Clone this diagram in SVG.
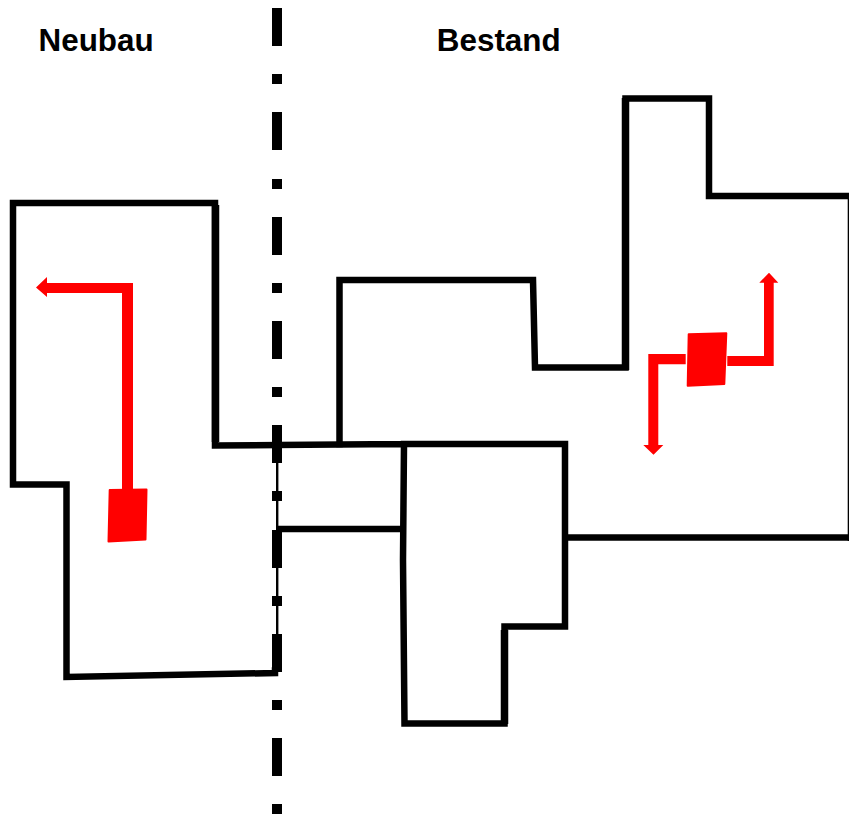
<svg xmlns="http://www.w3.org/2000/svg" width="849" height="815" viewBox="0 0 849 815">
<style>
.wall{fill:none;stroke:#000;stroke-width:6.5;stroke-linejoin:miter;stroke-linecap:square}
.thick{fill:none;stroke:#000;stroke-width:7.5;stroke-linecap:butt}
.dash{fill:#000}
.red{fill:#f00}
.box{fill:#f00;stroke:#f00;stroke-width:2;stroke-linejoin:round}
.label{font-family:"Liberation Sans",Arial,sans-serif;font-weight:700;font-size:31.4px;fill:#000}
</style>
<rect width="849" height="815" fill="#fff"/>
<g id="label-neubau"><text class="label" x="38.5" y="50.5">Neubau</text></g>
<g id="label-bestand"><text class="label" x="436.8" y="50.5">Bestand</text></g>
<g id="walls-neubau">
<path class="wall" d="M275 670.5L275 673L66.5 677L66.5 484.5L13 484.5L13 203L215 203L215 445.5L278 445"/>
<path class="thick" d="M215.5 205L215.5 442"/>
<path class="wall" d="M280 529L402 529"/>
</g>
<g id="walls-bestand">
<path class="wall" d="M278 445L404 444L565 444L565 626.5L504.5 626.5L504.5 723.5L404.5 723.5L403 560L404 444"/>
<path class="wall" d="M339.5 444L339.5 280L533 280L535 367.5L625.5 367.5L625.5 98.5L709 98.5L709 196L846 196"/>
<path class="thick" d="M625.5 370L625.5 98M504.5 630L504.5 724"/>
<path class="wall" d="M568 537.5L846 537.5"/>
<rect class="dash" x="847.7" y="193" width="1.3" height="348"/>
</g>
<g id="divider">
<rect class="dash" x="276" y="463" width="2.4" height="171"/>
<rect class="dash" x="272" y="8" width="10" height="38"/>
<rect class="dash" x="272" y="74" width="10" height="10"/>
<rect class="dash" x="272" y="112" width="10" height="38"/>
<rect class="dash" x="272" y="179" width="10" height="10"/>
<rect class="dash" x="272" y="217" width="10" height="38"/>
<rect class="dash" x="272" y="283" width="10" height="10"/>
<rect class="dash" x="272" y="321" width="10" height="38"/>
<rect class="dash" x="272" y="387" width="10" height="10"/>
<rect class="dash" x="272" y="425" width="10" height="38"/>
<rect class="dash" x="272" y="491" width="10" height="10"/>
<rect class="dash" x="272" y="530" width="10" height="38"/>
<rect class="dash" x="272" y="596" width="10" height="10"/>
<rect class="dash" x="272" y="634" width="10" height="38"/>
<rect class="dash" x="272" y="700" width="10" height="10"/>
<rect class="dash" x="272" y="738" width="10" height="38"/>
<rect class="dash" x="272" y="804" width="10" height="10"/>
</g>
<g id="stairs-neubau">
<path class="box" d="M109.7 490L146.5 489.5L145.5 539.5L108.5 541.5Z"/>
<path class="red" d="M122 489L122 293L47 293L47 297L36 287.5L47 277L47 283L133 283L133 489Z"/>
</g>
<g id="stairs-bestand">
<path class="box" d="M688.7 334.3L726.3 333.3L724.3 384L687.7 385.7Z"/>
<path class="red" d="M685.7 354L648.3 354L648.3 445L643.3 445L653.5 454.7L663.3 445L658.3 445L658.3 364.3L685.7 364.3Z"/>
<path class="red" d="M727.3 356L764 356L764 282.7L759.3 282.7L769 272.7L778.3 282.7L773.7 282.7L773.7 366L727.3 366Z"/>
</g>
</svg>
